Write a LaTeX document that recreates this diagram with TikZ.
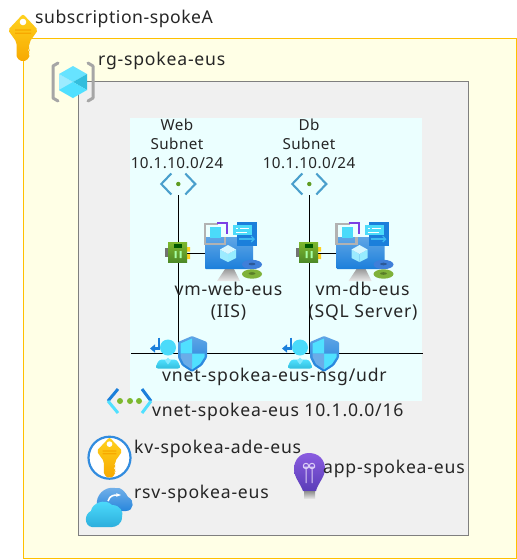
\documentclass[tikz,border=0pt]{standalone}
\usepackage{fontspec}
\setmainfont[LetterSpace=4.5]{Noto Sans}
\newfontfamily\tighterfont[LetterSpace=3]{Noto Sans}
\usetikzlibrary{calc,arrows.meta}
\definecolor{subfill}{HTML}{FFFFE6}
\definecolor{subedge}{HTML}{FFC000}
\definecolor{rgfill}{HTML}{F0F0F0}
\definecolor{rgedge}{HTML}{7F7F7F}
\definecolor{vnetfill}{HTML}{EBFFFF}
\definecolor{azblue}{HTML}{1B7FDB}
\definecolor{azcyan}{HTML}{50E0FF}
\definecolor{azlight}{HTML}{9CEBFF}
\definecolor{azmid}{HTML}{32BEDD}
\definecolor{chev}{HTML}{4A9FCC}
\definecolor{gold}{HTML}{FFD21E}
\definecolor{goldd}{HTML}{F7A800}
\definecolor{boardg}{HTML}{7DB82E}
\definecolor{boardd}{HTML}{4E8A28}
\definecolor{diskb}{HTML}{3F7FD9}
\definecolor{diskg}{HTML}{7FB23A}
\definecolor{bulbt}{HTML}{8A5CE0}
\definecolor{bulbb}{HTML}{5A3DB8}
\definecolor{vmpurple}{HTML}{7B3FE4}
\tikzset{
  x=1pt,y=-1pt,
  txt/.style={inner sep=0pt,anchor=base west,text=black!85,font=\fontsize{17.6}{20}\selectfont},
  ctxt/.style={txt,anchor=base},
  snet/.style={txt,anchor=base,font=\tighterfont\fontsize{15.2}{18}\selectfont},
  conn/.style={draw=black,line width=.9pt},
  goldkey/.pic={
    \path[top color=gold,bottom color=goldd,rounded corners=2pt]
      (0,-16)--(15,0)--(6.5,12)--(6.5,16)--(5,18)--(6.5,20)--(5,22)--(6.5,24)--(6.5,28)--(0,32)--(-6.5,28)--(-6.5,12)--(-15,0)--cycle;
    \fill[white] (0,-8) circle (3.3);
    \fill[goldd] (-8,-.6) rectangle (8,.6) (-8,2.6) rectangle (8,3.8);
  },
  cubeicon/.pic={
    \fill[azlight] (0,0)--(-14,-8)--(-14,8)--(0,16)--cycle;
    \fill[azcyan!70!azlight] (0,0)--(-14,-8)--(0,-16)--(14,-8)--cycle;
    \fill[azcyan] (0,0)--(0,16)--(-14,8)--(-7,4)--cycle;
    \fill[azmid] (0,0)--(14,-8)--(14,8)--cycle;
    \fill[azcyan] (0,0)--(14,8)--(0,16)--cycle;
  },
  subneticon/.pic={
    \draw[chev,line width=2.1pt] (-7,-10.5)--(-17,0)--(-7,10.5) (7,-10.5)--(17,0)--(7,10.5);
    \fill[boardd!85!lime] (0,0) circle (2.2);
  },
  nicicon/.pic={
    \fill[black!55] (-12.5,-4) rectangle (-9,5);
    \fill[gold] (9,-5) rectangle (12.5,-.5) (9,2) rectangle (12.5,7);
    \path[top color=boardg,bottom color=boardd] (-9.5,-10) rectangle (9.5,10);
    \fill[black!65!green] (-3.5,-8) rectangle (4,-4);
    \fill[white!65!green] (-3,-1) rectangle (-1,6) (2,-1) rectangle (4,6);
  },
  vmicon/.pic={
    \path[top color=black!40,bottom color=black!8] (20,32)--(29,32)--(35,44)--(12,44)--cycle;
    \path[top color=azblue!70!white,bottom color=azblue,rounded corners=1pt] (0,0) rectangle (48,32);
    \draw[black!30,line width=2.4pt] (13,-13)--(0,-13)--(0,7)--(20,7)--(20,0);
    \draw[vmpurple,line width=2pt] (12,-14.5)--(22,-14.5)--(22,-3);
    \fill[azcyan!85!azmid] (5,-10) rectangle (16,1);
    \fill[azblue] (32,-15) rectangle (52,9);
    \fill[azcyan!85!azmid] (28,-12) rectangle (47,-2);
    \draw[white,line width=.8pt] (31,-9)--(33,-9) (35,-9)--(44,-9) (31,-5)--(42,-5);
    \draw[azcyan!60!azblue,line width=1.1pt,-{Straight Barb[length=3pt]}] (34,2)--(50,2);
    \fill[azcyan!60!white] (23,17)--(31,12.5)--(31,21)--(23,25)--cycle;
    \fill[azlight] (23,17)--(15,12.5)--(15,21)--(23,25)--cycle;
    \fill[white!60!azlight] (23,8)--(15,12.5)--(23,17)--(31,12.5)--cycle;
    \fill[diskb] (47,27.5) ellipse (10 and 4.7);
    \fill[diskb!70!black] (47,27) ellipse (3.5 and 1.3);
    \fill[diskg] (47,37) ellipse (10 and 4.7);
    \fill[diskg!70!black] (47,36.5) ellipse (3.5 and 1.3);
  },
  nsgicon/.pic={
    \draw[azblue,line width=2.4pt,-{Triangle[length=5pt,width=8pt]}] (-19,-16)--(-19,-5)--(-28,-5);
    \fill[azcyan!85!azmid] (-10,-6) circle (8);
    \path[top color=azcyan,bottom color=azmid,rounded corners=3pt] (-23,15)--(-19,6)--(-1,6)--(3,15)--cycle;
    \fill[white!30!azcyan] (-10,4)--(-13,7)--(-10,11)--(-7,7)--cycle;
    \path[top color=azblue!70!white,bottom color=azblue,rounded corners=1pt]
      (14,-17.5)--(29,-11.5)--(29,4)--(24,12)--(14,18.5)--(4,12)--(0,4)--(0,-11.5)--cycle;
    \fill[azcyan] (14,-15)--(2.5,-10)--(2.5,0)--(14,0)--cycle;
    \fill[azcyan] (14,0)--(26.5,0)--(26.5,3.5)--(22,10.5)--(14,16)--cycle;
    \fill[azblue!65!white] (14,0)--(2.5,0)--(2.5,3.5)--(6,10.5)--(14,16)--cycle;
  },
}
\begin{document}
\begin{tikzpicture}
\useasboundingbox (0,0) rectangle (517,560);
\fill[white] (0,0) rectangle (517,560);
\node[draw=subedge,fill=subfill,line width=.9pt,minimum width=492.5pt,minimum height=520.5pt,anchor=north west,inner sep=0pt] (sub) at (23,37.5) {};
\node[draw=rgedge,fill=rgfill,line width=.9pt,minimum width=390pt,minimum height=454pt,anchor=north west,inner sep=0pt] (rg) at (78,81) {};
\node[fill=vnetfill,minimum width=292pt,minimum height=283pt,anchor=north west,inner sep=0pt] (vnet) at (130,118) {};

% anchors of the connectors
\coordinate (subnetW) at (178.3,195);
\coordinate (subnetD) at (309.3,195);
\coordinate (nicW) at (178.3,253);
\coordinate (nicD) at (309.3,253);
\coordinate (vmW) at (207,253);
\coordinate (vmD) at (338,253);
\coordinate (busL) at (131,353.3);
\coordinate (busR) at (423,353.3);
\coordinate (busW) at (178.3,353.3);
\coordinate (busD) at (309.3,353.3);
\draw[conn] (busL) -- (busR);
\draw[conn] (subnetW) -- (busW);
\draw[conn] (subnetD) -- (busD);
\draw[conn] (nicW) -- (vmW);
\draw[conn] (nicD) -- (vmD);

% icons
\pic at (23,30) {goldkey};
\draw[black!35,line width=3pt,line cap=round,line join=round] (58,63)--(53,66)--(53,98)--(58,101) (88,63)--(93,66)--(93,98)--(88,101);
\pic at (73,82) {cubeicon};
\pic at (178.3,184) {subneticon};
\pic at (309.3,184) {subneticon};
\pic at (177.5,252) {nicicon};
\pic at (308.5,252) {nicicon};
\pic at (205,237) {vmicon};
\pic at (336.5,237) {vmicon};
\pic at (178,353.5) {nsgicon};
\pic at (310,353.5) {nsgicon};
% vnet icon
\draw[azblue,line width=3pt] (118,389)--(108,401) (142,389)--(151,401);
\draw[azcyan,line width=3pt] (108,401)--(118,413) (151,401)--(142,413);
\fill[boardg] (120,401) circle (3) (130,401) circle (3) (139,401) circle (3);
% key vault icon
\draw[azblue!90!white,line width=2.2pt,fill=white] (109.5,457.7) circle (21);
\pic[scale=.86] at (109.5,451) {goldkey};
% recovery vault icon
\path[top color=azblue!60!white,bottom color=azblue] (97,515) -- (97,506) .. controls (95,495) and (105,486) .. (115,488) .. controls (121,486) and (126,493) .. (128,497) .. controls (135,500) and (134,511) .. (126,511) -- (104,511) -- cycle;
\draw[white,line width=1.6pt,-{Stealth[length=5pt]}] (108,501) .. controls (110,495) and (114,495) .. (121,495);
\path[top color=azcyan,bottom color=azmid!75!azblue] (92,527) .. controls (84,526) and (84,514) .. (91,511) .. controls (92,503) and (105,498) .. (112,505) .. controls (120,505) and (124,512) .. (122,517) .. controls (122,524) and (116,527) .. (112,527) -- cycle;
% application insights icon
\path[top color=bulbt,bottom color=bulbb] (309,453) .. controls (319,453) and (325,460) .. (325,469) .. controls (325,477) and (318,483) .. (316,491) -- (303,491) .. controls (300,483) and (294,477) .. (294,469) .. controls (294,460) and (300,453) .. (309,453) -- cycle;
\draw[white!70!bulbt,line width=1pt] (306,466) circle (2.7) (312,466) circle (2.7) (306,469)--(306,483) (312,469)--(312,483) (303,467)--(315,467);
\path[top color=black!45,bottom color=black!12] (304,491) rectangle (315,498);

% labels
\node[txt,font=\tighterfont\fontsize{17.6}{20}\selectfont] (tSub) at (35,23) {subscription-spokeA};
\node[txt] (tRg) at (98,65) {rg-spokea-eus};
\node[snet] (tW1) at (177,130.5) {Web};
\node[snet] (tW2) at (177,149.5) {Subnet};
\node[snet] (tW3) at (177,168.5) {10.1.10.0/24};
\node[snet] (tD1) at (309,130.5) {Db};
\node[snet] (tD2) at (309,149.5) {Subnet};
\node[snet] (tD3) at (309,168.5) {10.1.10.0/24};
\node[ctxt] (tVw) at (228.5,295) {vm-web-eus};
\node[ctxt] (tVw2) at (228.5,317) {(IIS)};
\node[ctxt] (tVd) at (362.5,295) {vm-db-eus};
\node[ctxt] (tVd2) at (363,317) {(SQL Server)};
\node[txt] (tNsg) at (162,381) {vnet-spokea-eus-nsg/udr};
\node[txt] (tVnet) at (152,416) {vnet-spokea-eus 10.1.0.0/16};
\node[txt] (tKv) at (134,453) {kv-spokea-ade-eus};
\node[txt] (tRsv) at (134,498) {rsv-spokea-eus};
\node[txt] (tApp) at (323,473) {app-spokea-eus};
\end{tikzpicture}
\end{document}
